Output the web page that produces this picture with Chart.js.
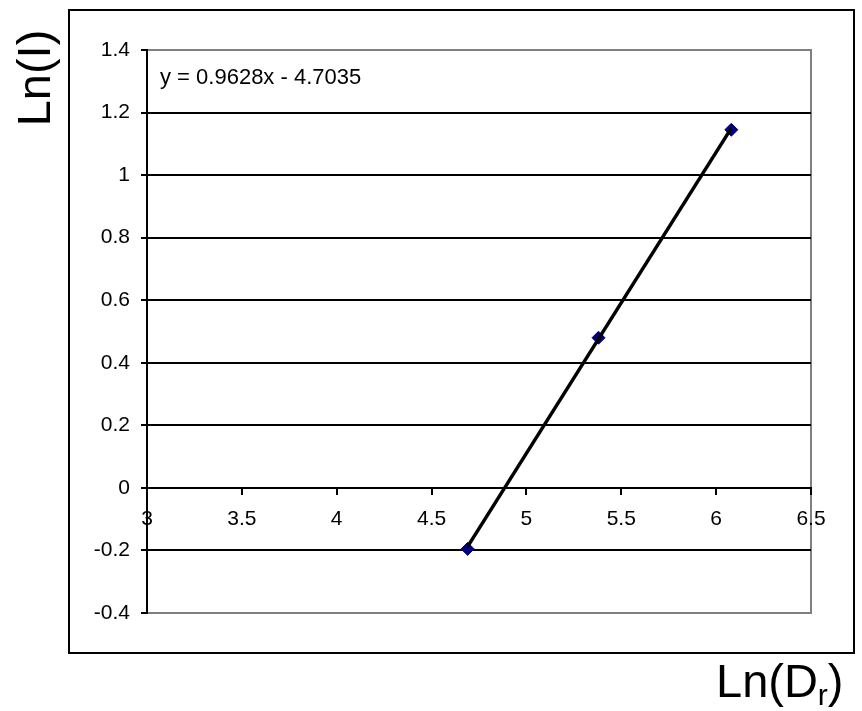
<!DOCTYPE html>
<html>
<head>
<meta charset="utf-8">
<script src="https://cdn.jsdelivr.net/npm/chart.js@4"></script>
<style>
    html, body { margin: 0; padding: 0; background: #fff; }
    canvas { display: block; }
</style>
</head>
<body>
<canvas id="chart" width="862" height="711"></canvas>
<script>
// --- Data ---
const lnDr = [4.69, 5.38, 6.08];
const lnI = [-0.195, 0.48, 1.145];
const trendSlope = 0.9628;
const trendIntercept = -4.7035;
const xTicks = [3, 3.5, 4, 4.5, 5, 5.5, 6, 6.5];
const yTicks = [-0.4, -0.2, 0, 0.2, 0.4, 0.6, 0.8, 1, 1.2, 1.4];
const equationText = 'y = 0.9628x - 4.7035';

const FONT = "Arial, 'Liberation Sans', sans-serif";

const points = lnDr.map((x, i) => ({ x: x, y: lnI[i] }));
const xLo = Math.min(...lnDr);
const xHi = Math.max(...lnDr);
const trendPoints = [xLo, xHi].map(x => ({ x: x, y: trendSlope * x + trendIntercept }));

// frame, plot border, equation and axis titles
const framePlugin = {
    id: 'frame',
    beforeDraw(chart) {
        const { ctx, chartArea: a } = chart;
        ctx.save();
        ctx.fillStyle = '#fff';
        ctx.fillRect(0, 0, chart.width, chart.height);
        ctx.strokeStyle = '#000';
        ctx.lineWidth = 2;
        ctx.strokeRect(69, 10, 785, 643);
        ctx.strokeStyle = '#808080';
        ctx.strokeRect(a.left, a.top, a.right - a.left, a.bottom - a.top);
        ctx.restore();
    },
    afterDraw(chart) {
        const { ctx } = chart;
        ctx.save();
        ctx.fillStyle = '#000';
        ctx.textBaseline = 'alphabetic';

        ctx.font = '22px ' + FONT;
        ctx.textAlign = 'left';
        ctx.fillText(equationText, 160, 84);

        // y title, rotated
        ctx.save();
        ctx.translate(50, 78);
        ctx.rotate(-Math.PI / 2);
        ctx.textAlign = 'center';
        ctx.font = '47px ' + FONT;
        ctx.fillText('Ln(I)', 0, 0);
        ctx.restore();

        // x title with subscript r
        let x = 716;
        ctx.textAlign = 'left';
        ctx.font = '47px ' + FONT;
        ctx.fillText('Ln(D', x, 697);
        x += ctx.measureText('Ln(D').width;
        ctx.font = '30px ' + FONT;
        ctx.fillText('r', x, 705);
        x += ctx.measureText('r').width;
        ctx.font = '47px ' + FONT;
        ctx.fillText(')', x, 697);
        ctx.restore();
    }
};

const fmt = v => String(Math.round(v * 100) / 100);

new Chart(document.getElementById('chart'), {
    type: 'scatter',
    data: {
        datasets: [
            {
                label: 'Trend',
                data: trendPoints,
                showLine: true,
                borderColor: '#000',
                borderWidth: 3.5,
                pointRadius: 0,
                fill: false
            },
            {
                label: 'Ln(I)',
                data: points,
                pointStyle: 'rectRot',
                pointRadius: 6.5,
                pointBorderWidth: 1,
                backgroundColor: '#000080',
                borderColor: '#000080'
            }
        ]
    },
    options: {
        responsive: false,
        animation: false,
        layout: { padding: { left: 0, top: 50, right: 51, bottom: 98 } },
        plugins: {
            legend: { display: false },
            tooltip: { enabled: false }
        },
        scales: {
            x: {
                type: 'linear',
                position: { y: 0 },
                min: xTicks[0],
                max: xTicks[xTicks.length - 1],
                afterBuildTicks: s => { s.ticks = xTicks.map(v => ({ value: v })); },
                ticks: {
                    color: '#000',
                    font: { family: FONT, size: 21 },
                    padding: 13,
                    maxRotation: 0,
                    autoSkip: false,
                    callback: v => fmt(v)
                },
                grid: {
                    drawOnChartArea: false,
                    color: '#000',
                    lineWidth: 2,
                    tickLength: 6
                },
                border: { color: '#000', width: 2 }
            },
            y: {
                type: 'linear',
                position: 'left',
                min: yTicks[0],
                max: yTicks[yTicks.length - 1],
                afterBuildTicks: s => { s.ticks = yTicks.map(v => ({ value: v })); },
                afterFit: s => { s.width = 147; },
                ticks: {
                    color: '#000',
                    font: { family: FONT, size: 21 },
                    padding: 11,
                    autoSkip: false,
                    callback: v => fmt(v)
                },
                grid: {
                    color: c => (c.tick && (c.tick.value === yTicks[0] || c.tick.value === yTicks[yTicks.length - 1])) ? '#808080' : '#000',
                    tickColor: '#000',
                    lineWidth: 2,
                    tickLength: 6
                },
                border: { color: '#000', width: 2 }
            }
        }
    },
    plugins: [framePlugin]
});
</script>
</body>
</html>
